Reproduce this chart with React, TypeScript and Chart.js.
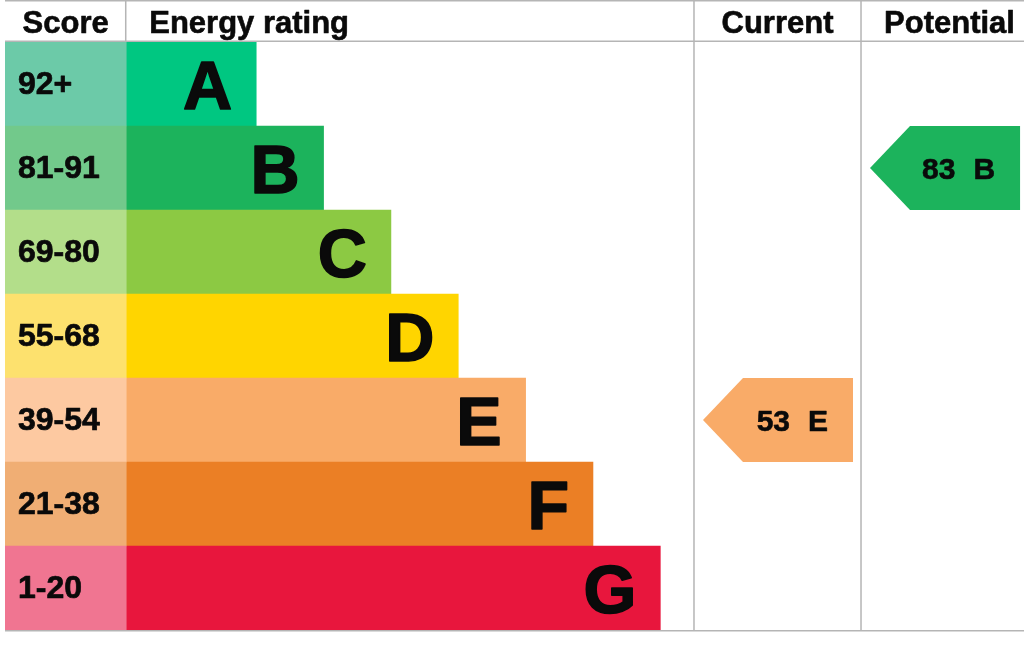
import React, { useEffect, useRef } from "react";
import { Chart, registerables } from "chart.js";

Chart.register(...registerables);

// ---- data ----
const bands = ["A", "B", "C", "D", "E", "F", "G"];
const scoreRanges = ["92+", "81-91", "69-80", "55-68", "39-54", "21-38", "1-20"];
const bandMinScores = [92, 81, 69, 55, 39, 21, 1];
const barLengths = [1, 2, 3, 4, 5, 6, 7];
const headers = ["Score", "Energy rating", "Current", "Potential"];
const currentScore = 53;
const potentialScore = 83;

// ---- styles ----
const barColors = ["#00c781", "#1cb35c", "#8cc943", "#ffd500", "#f9ab68", "#eb7f25", "#e8163d"];
const scoreColors = ["#6ccaa8", "#72c98b", "#b3de8a", "#fde16e", "#fdc9a1", "#f0ae74", "#f07591"];
const FONT = "'Liberation Sans', Arial, Helvetica, sans-serif";
const TEXT = "#0a0a0a";
const GRID = "#b5b5b5";

// ---- layout (scale units) ----
const X_MIN = -2.73;
const X_MAX = 12.4;
const BAR_START = -0.93;
const CUR_COL: [number, number] = [7.5, 9.98];
const POT_COL: [number, number] = [9.98, 12.46];

function bandOf(score: number): number {
  for (let i = 0; i < bandMinScores.length; i++) {
    if (score >= bandMinScores[i]) return i;
  }
  return bandMinScores.length - 1;
}

function heavyText(ctx: CanvasRenderingContext2D, s: string, x: number, y: number, stroke: number) {
  ctx.fillText(s, x, y);
  if (stroke > 0) {
    ctx.lineWidth = stroke;
    ctx.strokeStyle = TEXT;
    ctx.lineJoin = "round";
    ctx.strokeText(s, x, y);
  }
}

const epcPlugin = {
  id: "epcOverlay",
  afterDatasetsDraw(chart: any) {
    const { ctx, chartArea, scales } = chart;
    const x = scales.x;
    const y = scales.y;
    const top = chartArea.top;
    const bottom = chartArea.bottom;
    const left = chartArea.left;
    const right = chart.width;
    const rowH = y.getPixelForValue(1) - y.getPixelForValue(0);

    const xScoreL = x.getPixelForValue(X_MIN);
    const xBar = x.getPixelForValue(BAR_START);
    const xCurL = x.getPixelForValue(CUR_COL[0]);
    const xCurR = x.getPixelForValue(CUR_COL[1]);
    const xPotL = x.getPixelForValue(POT_COL[0]);
    const xPotR = x.getPixelForValue(POT_COL[1]);

    ctx.save();

    // grid lines
    ctx.strokeStyle = GRID;
    ctx.lineWidth = 1.5;
    ctx.beginPath();
    ctx.moveTo(left, 0.75);
    ctx.lineTo(right, 0.75);
    ctx.moveTo(left, top - 0.75);
    ctx.lineTo(right, top - 0.75);
    ctx.moveTo(left, bottom + 0.75);
    ctx.lineTo(right, bottom + 0.75);
    ctx.moveTo(xBar - 0.5, 0);
    ctx.lineTo(xBar - 0.5, top);
    ctx.moveTo(xCurL, 0);
    ctx.lineTo(xCurL, bottom + 1.5);
    ctx.moveTo(xPotL, 0);
    ctx.lineTo(xPotL, bottom + 1.5);
    ctx.stroke();

    // headers
    ctx.fillStyle = TEXT;
    ctx.font = `bold 31px ${FONT}`;
    ctx.textBaseline = "alphabetic";
    const hy = 32.5;
    ctx.textAlign = "center";
    heavyText(ctx, headers[0], (xScoreL + xBar) / 2, hy, 0.6);
    ctx.textAlign = "left";
    heavyText(ctx, headers[1], xBar + 23, hy, 0.6);
    ctx.textAlign = "center";
    heavyText(ctx, headers[2], (xCurL + xCurR) / 2, hy, 0.6);
    ctx.textAlign = "left";
    heavyText(ctx, headers[3], xPotL + 23, hy, 0.6);

    // score ranges + band letters
    for (let i = 0; i < bands.length; i++) {
      const cy = y.getPixelForValue(i);
      ctx.font = `bold 32px ${FONT}`;
      ctx.textAlign = "left";
      ctx.fillStyle = TEXT;
      heavyText(ctx, scoreRanges[i], xScoreL + 13, cy + 10, 0.7);

      ctx.font = `bold 68px ${FONT}`;
      ctx.textAlign = "right";
      heavyText(ctx, bands[i], x.getPixelForValue(barLengths[i]) - 24, cy + 24.5, 1.6);
    }

    // arrows
    const drawArrow = (score: number, colL: number, colR: number) => {
      const b = bandOf(score);
      const cy = y.getPixelForValue(b);
      const t = cy - rowH / 2;
      const btm = cy + rowH / 2;
      const tip = colL + 9;
      const r = colR - 8;
      const depth = 40;
      ctx.fillStyle = barColors[b];
      ctx.beginPath();
      ctx.moveTo(tip, cy);
      ctx.lineTo(tip + depth, t);
      ctx.lineTo(r, t);
      ctx.lineTo(r, btm);
      ctx.lineTo(tip + depth, btm);
      ctx.closePath();
      ctx.fill();

      ctx.fillStyle = TEXT;
      ctx.font = `bold 30px ${FONT}`;
      ctx.textAlign = "right";
      const letterRight = r - 25;
      heavyText(ctx, bands[b], letterRight, cy + 10.5, 0.6);
      const lw = ctx.measureText(bands[b]).width;
      heavyText(ctx, String(score), letterRight - lw - 18, cy + 10.5, 0.6);
    };
    drawArrow(currentScore, xCurL, xCurR);
    drawArrow(potentialScore, xPotL, xPotR);

    ctx.restore();
  },
};

export default function App() {
  const canvasRef = useRef<HTMLCanvasElement | null>(null);

  useEffect(() => {
    const canvas = canvasRef.current;
    if (!canvas) return;
    const chart = new Chart(canvas, {
      type: "bar",
      data: {
        labels: bands,
        datasets: [
          {
            label: "Score",
            data: bands.map(() => [X_MIN, BAR_START]) as any,
            backgroundColor: scoreColors,
            borderWidth: 0,
            grouped: false,
            barPercentage: 1,
            categoryPercentage: 1,
          } as any,
          {
            label: "Energy rating",
            data: barLengths.map((v) => [BAR_START, v]) as any,
            backgroundColor: barColors,
            borderWidth: 0,
            grouped: false,
            barPercentage: 1,
            categoryPercentage: 1,
          } as any,
        ],
      },
      options: {
        indexAxis: "y",
        responsive: false,
        animation: false,
        events: [],
        layout: { padding: { top: 42, bottom: 16, left: 5, right: 0 } },
        plugins: {
          legend: { display: false },
          tooltip: { enabled: false },
          title: { display: false },
        },
        scales: {
          x: { type: "linear", min: X_MIN, max: X_MAX, display: false },
          y: { type: "category", display: false, offset: true },
        },
      },
      plugins: [epcPlugin],
    });
    return () => chart.destroy();
  }, []);

  return (
    <div style={{ position: "absolute", left: 0, top: 0, width: 1024, height: 646, background: "#ffffff" }}>
      <canvas ref={canvasRef} width={1024} height={646} style={{ display: "block" }} />
    </div>
  );
}
